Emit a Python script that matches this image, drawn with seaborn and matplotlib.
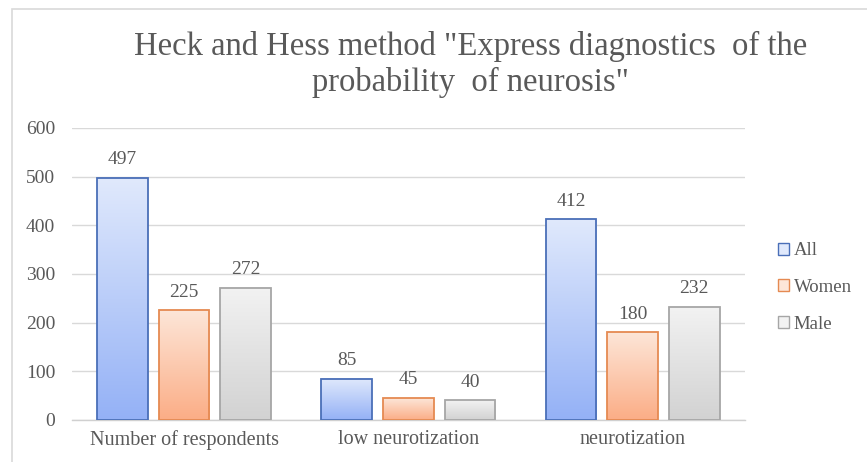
import numpy as np
import pandas as pd
import matplotlib
matplotlib.use('Agg')
import matplotlib.pyplot as plt
import seaborn as sns
from matplotlib.colors import LinearSegmentedColormap
from matplotlib.patches import Patch, Rectangle


# chart data
categories = ['Number of respondents', 'low neurotization', 'neurotization']
groups = ['All', 'Women', 'Male']
all_values = [497, 85, 412]
women_values = [225, 45, 180]
male_values = [272, 40, 232]
y_ticks = [0, 100, 200, 300, 400, 500, 600]

title = 'Heck and Hess method "Express diagnostics  of the\nprobability  of neurosis"'

# long table for seaborn
df = pd.DataFrame({
    'category': categories * 3,
    'group': [g for g in groups for _ in categories],
    'value': all_values + women_values + male_values,
})

# (top colour, bottom colour, edge colour) per group
styles = {
    'All': ('#e0e9fc', '#94b1f6', '#4a6fb8'),
    'Women': ('#fde6d8', '#fbad86', '#e58a52'),
    'Male': ('#f2f2f2', '#d2d2d2', '#a6a6a6'),
}

sns.set_theme(style='white')
plt.rcParams['font.family'] = ['Liberation Serif', 'DejaVu Serif']
text_color = '#595959'

fig = plt.figure(figsize=(8.67, 4.62), dpi=100)
ax = fig.add_axes([0.083, 0.091, 0.776, 0.632])

sns.barplot(data=df, x='category', y='value', hue='group', order=categories,
            hue_order=groups, width=0.825, gap=0.18, legend=False, ax=ax)

# gradient fill for every bar
for grp, cont in zip(groups, ax.containers):
    top, bottom, edge = styles[grp]
    cmap = LinearSegmentedColormap.from_list(grp, [top, bottom])
    grad = np.linspace(0, 1, 256).reshape(-1, 1)
    for bar in cont:
        x, w, h = bar.get_x(), bar.get_width(), bar.get_height()
        ax.imshow(grad, extent=[x, x + w, 0, h], aspect='auto', cmap=cmap,
                  origin='upper', zorder=2)
        bar.set_facecolor('none')
        bar.set_edgecolor(edge)
        bar.set_linewidth(1.3)
        bar.set_zorder(3)
    ax.bar_label(cont, padding=7, fontsize=14, color=text_color)

ax.set_xlim(-0.5, 2.5)
ax.set_ylim(0, 600)
ax.set_yticks(y_ticks)
ax.set_xlabel('')
ax.set_ylabel('')
ax.grid(axis='y', color='#d9d9d9', linewidth=1, zorder=0)
ax.set_axisbelow(True)
for side in ['left', 'right', 'top']:
    ax.spines[side].set_visible(False)
ax.spines['bottom'].set_color('#d0d0d0')
ax.spines['bottom'].set_linewidth(1)
ax.tick_params(axis='y', length=0, pad=12, labelsize=14, labelcolor=text_color)
ax.tick_params(axis='x', length=0, pad=7, labelsize=14.5, labelcolor=text_color)

fig.text(0.543, 0.86, title, ha='center', va='center', fontsize=23.5,
         color=text_color, linespacing=1.2)

handles = [Patch(facecolor=styles[g][0], edgecolor=styles[g][2], linewidth=1)
           for g in groups]
fig.legend(handles, groups, loc='center left', bbox_to_anchor=(0.897, 0.378),
           frameon=False, fontsize=13.5, labelcolor=text_color,
           borderpad=0, borderaxespad=0,
           handlelength=0.6, handleheight=0.6, handletextpad=0.25,
           labelspacing=1.05)

# outer chart frame (only left and top edges show)
fig.add_artist(Rectangle((0.014, -0.1), 1.1, 1.08, transform=fig.transFigure,
                         fill=False, edgecolor='#d9d9d9', linewidth=1.2))

fig.savefig('out.png', dpi=100)
